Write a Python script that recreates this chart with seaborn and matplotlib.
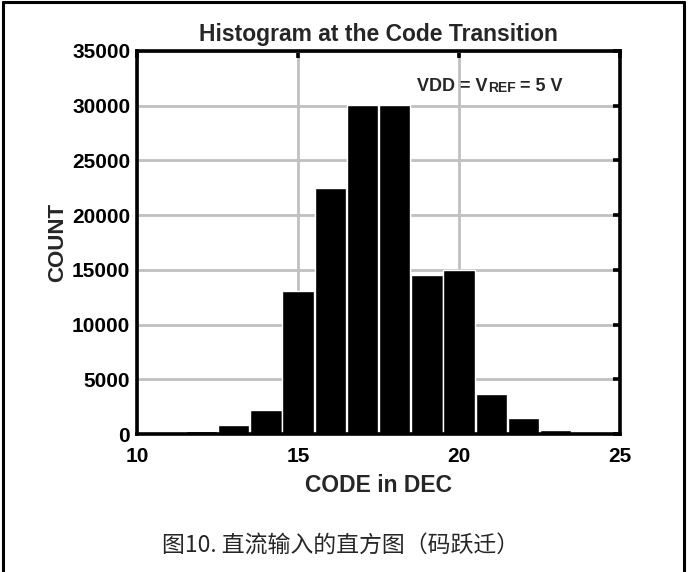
import numpy as np
import pandas as pd
import seaborn as sns
import matplotlib.pyplot as plt
from matplotlib.lines import Line2D

# histogram data
codes = [11, 12, 13, 14, 15, 16, 17, 18, 19, 20, 21, 22, 23, 24]
counts = [200, 250, 800, 2250, 13100, 22450, 30100, 30100, 14500, 15000, 3650, 1450, 350, 200]

title = 'Histogram at the Code Transition'
xlab = 'CODE in DEC'
ylab = 'COUNT'
caption = '图10. 直流输入的直方图（码跃迁）'

sns.set_style('white')
plt.rcParams['font.family'] = ['Liberation Sans', 'Noto Sans CJK SC', 'DejaVu Sans']

df = pd.DataFrame({'code': codes, 'count': counts})

fig = plt.figure(figsize=(6.89, 5.72), dpi=100)
ax = fig.add_axes([0.199, 0.241, 0.701, 0.670])

sns.barplot(data=df, x='code', y='count', native_scale=True, color='black',
            saturation=1, width=0.97, edgecolor='white', linewidth=1.0, ax=ax)

ax.set_xlim(10, 25)
ax.set_ylim(0, 35000)
ax.set_xticks([10, 15, 20, 25])
ax.set_yticks(np.arange(0, 35001, 5000))
ax.set_axisbelow(True)
ax.grid(True, color='#c0c0c0', lw=2)
for s in ax.spines.values():
    s.set_linewidth(2.6)
    s.set_color('black')
ax.tick_params(direction='in', length=5, width=2.6, top=True, right=True,
               labelsize=15, colors='black')
ax.tick_params(axis='x', pad=9)
ax.tick_params(axis='y', pad=5)
for lbl in ax.get_xticklabels() + ax.get_yticklabels():
    lbl.set_fontweight('bold')

ax.set_title(title, fontsize=16.5, fontweight='bold', pad=7)
ax.set_xlabel(xlab, fontsize=16.5, fontweight='bold', labelpad=6)
ax.set_ylabel(ylab, fontsize=16, fontweight='bold', labelpad=3)

# VDD = VREF = 5 V with small REF
t1 = ax.text(0.58, 0.885, 'VDD = V', transform=ax.transAxes, fontsize=13,
             fontweight='bold', va='bottom', ha='left')
t2 = ax.annotate('REF', xy=(1, 0), xycoords=t1, fontsize=10, fontweight='bold',
                 va='bottom', ha='left')
ax.annotate(' = 5 V', xy=(1, 0), xycoords=t2, fontsize=13, fontweight='bold',
            va='bottom', ha='left')

fig.text(0.494, 0.047, caption, fontsize=16.5, ha='center', va='center',
         family=['Noto Sans CJK SC', 'Liberation Sans'])

# outer frame (open at the bottom)
for xs, ys in [([0.005, 0.005], [0, 0.996]), ([0.005, 0.993], [0.996, 0.996]),
               ([0.993, 0.993], [0, 0.996])]:
    fig.add_artist(Line2D(xs, ys, color='black', lw=2.2, transform=fig.transFigure))

fig.savefig('out.png', dpi=100)
